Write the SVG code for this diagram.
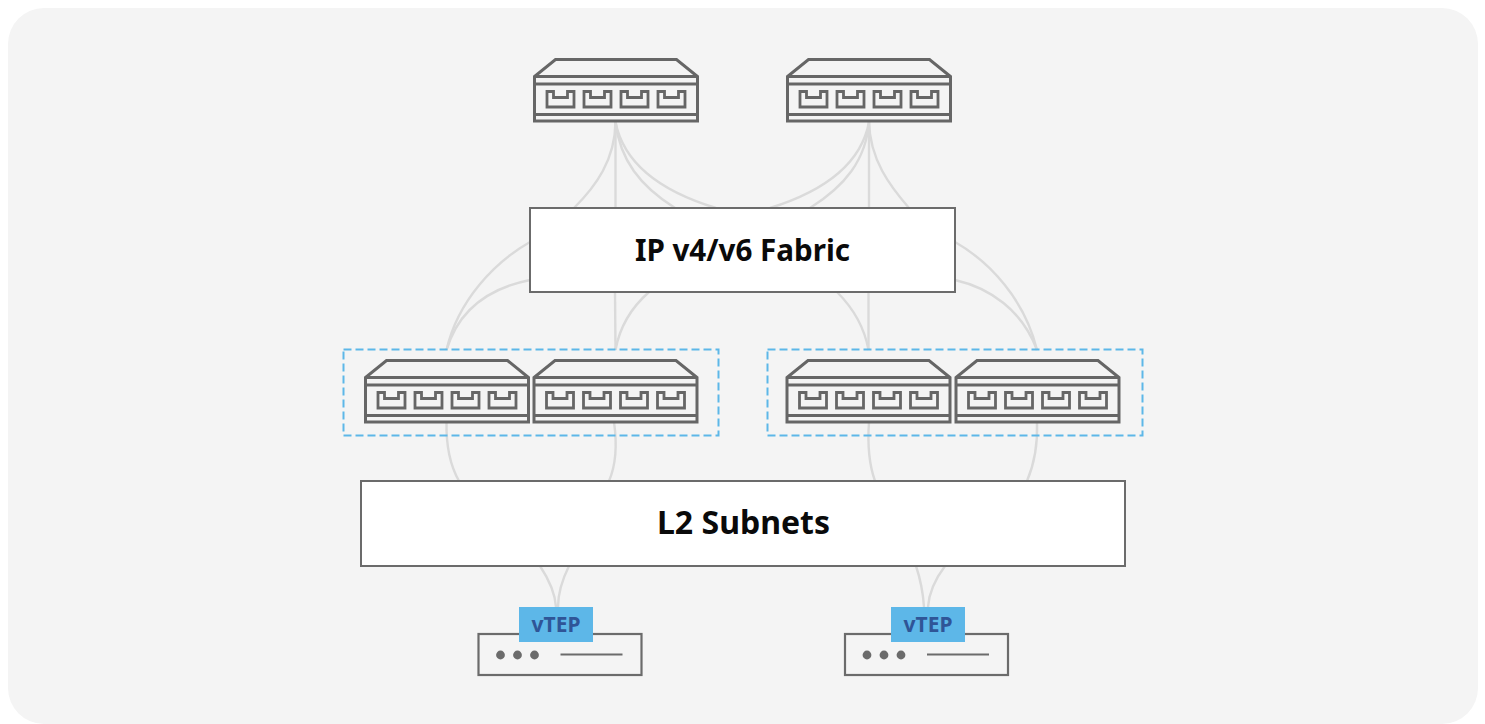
<svg xmlns="http://www.w3.org/2000/svg" xmlns:xlink="http://www.w3.org/1999/xlink" width="1485" height="724" viewBox="0 0 1485 724">
<style>
.c{fill:none;stroke:#dadada;stroke-width:2.4}
.box{fill:#fff;stroke:#6b6b6b;stroke-width:2}
.grp{fill:none;stroke:#5db7e8;stroke-width:2;stroke-dasharray:8 4}
.lbl{font-family:"Noto Sans",sans-serif;font-weight:700;fill:#0a0a0a;text-anchor:middle}
.vt{font-family:"Noto Sans",sans-serif;font-weight:700;font-size:21px;fill:#2f5597;text-anchor:middle}
.sw{fill:none;stroke:#666;stroke-width:3}
.pt{fill:none;stroke:#666;stroke-width:2.8}
.srv{fill:none;stroke:#6b6b6b;stroke-width:2.2}
</style>
<defs>
<g id="switch">
<path class="sw" d="M0 61.500V17L21 0H142L163 17V61.500ZM0 17H163M0 24.500H163M0 55H163"/>
<path id="port" class="pt" d="M12.500 32H19V38H33V32H39.500V47.500H12.500Z"/>
<use xlink:href="#port" x="37"/>
<use xlink:href="#port" x="74"/>
<use xlink:href="#port" x="111"/>
</g>
<g id="server">
<rect class="srv" x="0" y="0" width="163" height="41"/>
<circle cx="22" cy="21" r="4.400" fill="#6b6b6b"/>
<circle cx="39" cy="21" r="4.400" fill="#6b6b6b"/>
<circle cx="56" cy="21" r="4.400" fill="#6b6b6b"/>
<path d="M82 20.500H144" fill="none" stroke="#6b6b6b" stroke-width="2"/>
</g>
</defs>
<rect id="background" x="8" y="8" width="1470" height="716" rx="36" fill="#f4f4f4"/>
<g id="connectors">
<path class="c" d="M615.500 122C615 160 596 186 574 208"/>
<path class="c" d="M615.500 122V208"/>
<path class="c" d="M615.500 122C620 160 640 186 675 208"/>
<path class="c" d="M615.500 122C625 170 670 194 716 208"/>
<path class="c" d="M869 122C860 170 815 194 770 208"/>
<path class="c" d="M869 122C866 160 845 186 810 208"/>
<path class="c" d="M869 122V208"/>
<path class="c" d="M869 122C870 160 890 186 909 208"/>
<path class="c" d="M446.500 350C458 300 495 262 530 242"/>
<path class="c" d="M446.500 350C460 305 495 287 530 280"/>
<path class="c" d="M615.500 350L615 292"/>
<path class="c" d="M615.500 350C620 325 632 307 649 292"/>
<path class="c" d="M868.500 350V292"/>
<path class="c" d="M868.500 350C864 325 852 307 837 292"/>
<path class="c" d="M1037 350C1025 300 990 262 955 242"/>
<path class="c" d="M1037 350C1022 310 990 288 955 280"/>
<path class="c" d="M446.500 422C446 450 451 467 459 481"/>
<path class="c" d="M614 422C618 450 615 467 609 481"/>
<path class="c" d="M869 422C867 450 870 467 875 481"/>
<path class="c" d="M1037 422C1038 450 1033 467 1027 481"/>
<path class="c" d="M540 566C548 578 555 592 556 607"/>
<path class="c" d="M569 566C563 578 558 592 558 607"/>
<path class="c" d="M916 566C920 578 923 592 924 607"/>
<path class="c" d="M945 566C936 578 929 592 928 607"/>
</g>
<g id="spine-1"><use xlink:href="#switch" x="534.500" y="59.500"/></g>
<g id="spine-2"><use xlink:href="#switch" x="787.500" y="59.500"/></g>
<g id="fabric"><rect class="box" x="530" y="208" width="425" height="84"/><text class="lbl" font-size="29.600" x="742.500" y="261">IP v4/v6 Fabric</text></g>
<g id="group-left"><rect class="grp" x="343.500" y="349.500" width="375" height="86"/></g>
<g id="group-right"><rect class="grp" x="767.500" y="349.500" width="375" height="86"/></g>
<g id="leaf-1"><use xlink:href="#switch" x="365.500" y="360.500"/></g>
<g id="leaf-2"><use xlink:href="#switch" x="534" y="360.500"/></g>
<g id="leaf-3"><use xlink:href="#switch" x="787" y="360.500"/></g>
<g id="leaf-4"><use xlink:href="#switch" x="956" y="360.500"/></g>
<g id="l2"><rect class="box" x="361" y="481" width="764" height="85"/><text class="lbl" font-size="32" x="743.500" y="534">L2 Subnets</text></g>
<g id="host-1"><use xlink:href="#server" x="478.500" y="634"/><rect x="519" y="607" width="74" height="35" fill="#5db7e8"/><text class="vt" x="556" y="632">vTEP</text></g>
<g id="host-2"><use xlink:href="#server" x="845" y="634"/><rect x="891" y="607" width="74" height="35" fill="#5db7e8"/><text class="vt" x="928" y="632">vTEP</text></g>
</svg>
